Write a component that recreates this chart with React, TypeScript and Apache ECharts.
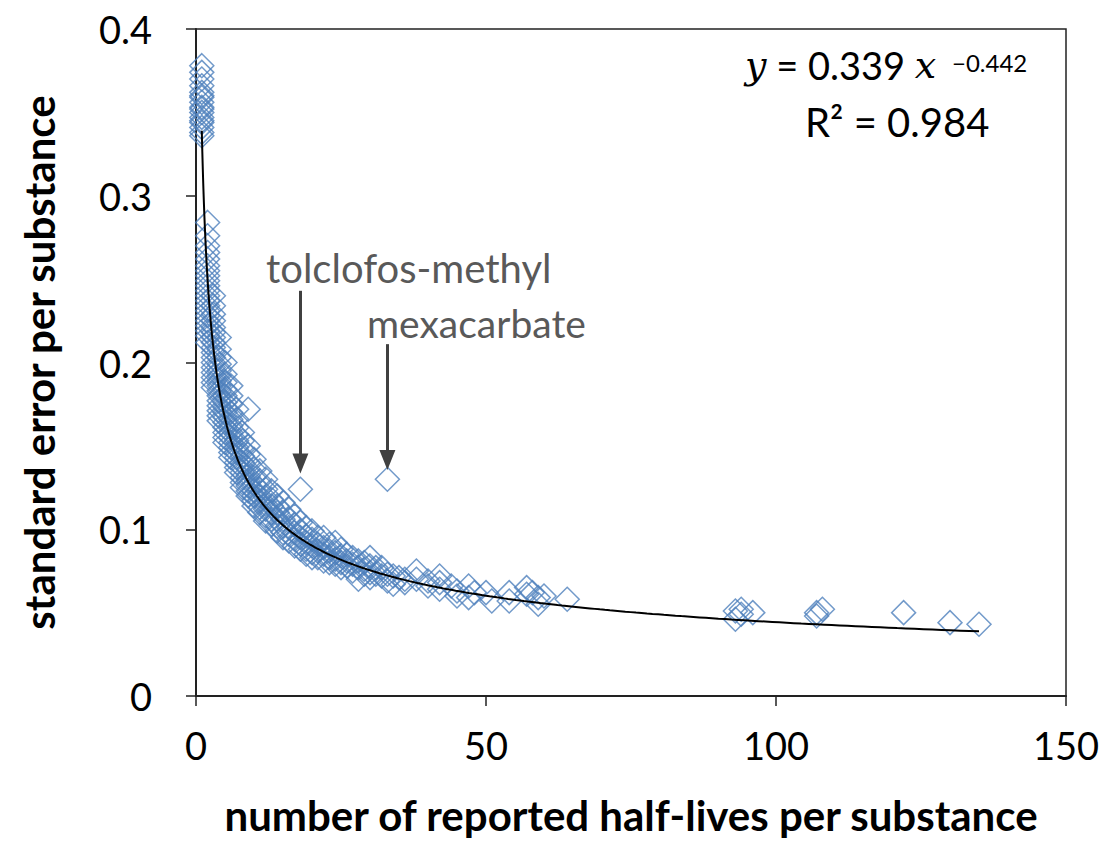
import React, { useEffect, useRef } from "react";
import * as echarts from "echarts";

// number of reported half-lives per substance -> standard errors observed
const lowCountGroups: Array<[number, number[]]> = [
  [1, [0.378, 0.374, 0.370, 0.366, 0.362, 0.359, 0.356, 0.353, 0.350, 0.347, 0.344, 0.341, 0.338, 0.336, 0.360, 0.352, 0.345]],
  [2, [0.284, 0.276, 0.270, 0.266, 0.262, 0.258, 0.255, 0.252, 0.249, 0.246, 0.243, 0.240, 0.237, 0.234, 0.231, 0.228, 0.225, 0.222, 0.219, 0.216, 0.212]],
  [3, [0.240, 0.234, 0.229, 0.225, 0.221, 0.218, 0.215, 0.212, 0.209, 0.206, 0.203, 0.200, 0.197, 0.194, 0.191, 0.188, 0.185]],
  [4, [0.215, 0.208, 0.203, 0.199, 0.195, 0.192, 0.189, 0.186, 0.183, 0.180, 0.177, 0.174, 0.171, 0.168, 0.165]],
  [5, [0.200, 0.193, 0.188, 0.184, 0.180, 0.176, 0.173, 0.170, 0.167, 0.164, 0.161, 0.158, 0.155, 0.152]],
  [6, [0.186, 0.180, 0.175, 0.170, 0.166, 0.162, 0.158, 0.155, 0.152, 0.149, 0.146, 0.143]],
  [7, [0.172, 0.166, 0.161, 0.157, 0.153, 0.149, 0.146, 0.143, 0.140, 0.137, 0.134]],
  [8, [0.158, 0.153, 0.148, 0.144, 0.140, 0.137, 0.134, 0.131, 0.128, 0.125]],
  [9, [0.172, 0.150, 0.145, 0.140, 0.136, 0.132, 0.129, 0.126, 0.123, 0.120]],
  [10, [0.142, 0.136, 0.131, 0.127, 0.123, 0.120, 0.117, 0.114]],
];

const midCountGroups: Array<[number, number[]]> = [
  [11, [0.135, 0.129, 0.124, 0.120, 0.117, 0.113, 0.110]],
  [12, [0.130, 0.124, 0.119, 0.115, 0.112, 0.108, 0.105]],
  [13, [0.123, 0.118, 0.114, 0.110, 0.106, 0.103]],
  [14, [0.120, 0.114, 0.110, 0.106, 0.102, 0.099]],
  [15, [0.116, 0.110, 0.106, 0.102, 0.098, 0.095]],
  [16, [0.112, 0.106, 0.101, 0.097, 0.093]],
  [17, [0.108, 0.103, 0.098, 0.094, 0.090]],
  [18, [0.104, 0.099, 0.095, 0.091, 0.088]],
  [19, [0.101, 0.096, 0.092, 0.088, 0.085]],
  [20, [0.099, 0.094, 0.090, 0.086, 0.083]],
  [21, [0.095, 0.091, 0.087, 0.083]],
  [22, [0.095, 0.089, 0.085, 0.081]],
  [23, [0.091, 0.087, 0.083, 0.080]],
  [24, [0.092, 0.086, 0.082, 0.079]],
  [25, [0.088, 0.084, 0.080, 0.077]],
  [26, [0.085, 0.081, 0.078]],
  [27, [0.083, 0.079, 0.075]],
  [28, [0.081, 0.077, 0.070]],
  [29, [0.080, 0.076, 0.073]],
  [30, [0.083, 0.078, 0.074, 0.071]],
];

const highCountGroups: Array<[number, number[]]> = [
  [31, [0.077, 0.073]],
  [32, [0.077, 0.072]],
  [33, [0.073, 0.069]],
  [34, [0.072, 0.067]],
  [35, [0.071]],
  [36, [0.070, 0.068]],
  [38, [0.075, 0.070]],
  [40, [0.069, 0.066]],
  [42, [0.072, 0.068, 0.064]],
  [44, [0.066]],
  [45, [0.063, 0.060]],
  [47, [0.066, 0.059]],
  [48, [0.062]],
  [50, [0.062]],
  [51, [0.057]],
  [54, [0.062, 0.057]],
  [57, [0.065, 0.061]],
  [58, [0.062]],
  [59, [0.055, 0.059]],
  [60, [0.060]],
  [64, [0.058]],
  [93, [0.051, 0.046]],
  [94, [0.052, 0.049]],
  [96, [0.050]],
  [107, [0.048, 0.050]],
  [108, [0.052]],
  [122, [0.050]],
  [130, [0.044]],
  [135, [0.043]],
];

// labelled outliers
const outlierNames = ["tolclofos-methyl", "mexacarbate"];
const outlierCounts = [18, 33];
const outlierErrors = [0.124, 0.13];

// power-law fit shown on the chart
const FIT_COEF = 0.339;
const FIT_EXP = -0.442;
const FIT_R2 = 0.984;
const FIT_RANGE = [1, 135];

const xTicks = [0, 50, 100, 150];
const yTicks = [0, 0.1, 0.2, 0.3, 0.4];

const BLUE = "#4f81bd";
const FONT = "Lato";

export default function App() {
  const ref = useRef<HTMLDivElement>(null);
  useEffect(() => {
    if (!ref.current) return;
    const chart = echarts.init(ref.current, null, { renderer: "svg" });

    const groups = [...lowCountGroups, ...midCountGroups, ...highCountGroups];
    const points: number[][] = [];
    groups.forEach(([n, ys]) => ys.forEach((y) => points.push([n, y])));
    outlierCounts.forEach((n, i) => points.push([n, outlierErrors[i]]));

    const fit: number[][] = [];
    const steps = 400;
    for (let i = 0; i <= steps; i++) {
      const t = i / steps;
      const x = FIT_RANGE[0] * Math.pow(FIT_RANGE[1] / FIT_RANGE[0], t);
      fit.push([x, FIT_COEF * Math.pow(x, FIT_EXP)]);
    }

    const arrowStarts = [0.243, 0.211];
    const arrowEnds = [0.1395, 0.1415];

    chart.setOption({
      animation: false,
      backgroundColor: "#fff",
      grid: {
        left: 196,
        right: 41,
        top: 29,
        bottom: 142,
        show: true,
        borderColor: "#222",
        borderWidth: 1.5,
      },
      xAxis: {
        type: "value",
        min: xTicks[0],
        max: xTicks[xTicks.length - 1],
        interval: 50,
        name: "number of reported half-lives per substance",
        nameLocation: "middle",
        nameGap: 98,
        nameTextStyle: { fontFamily: FONT, fontWeight: "bold", fontSize: 42, color: "#000" },
        axisLine: { show: true, onZero: false, lineStyle: { color: "#222", width: 2 } },
        axisTick: { show: true, inside: false, length: 10, lineStyle: { color: "#222", width: 1.5 } },
        axisLabel: { fontFamily: FONT, fontSize: 38, color: "#000", margin: 30 },
        splitLine: { show: false },
      },
      yAxis: {
        type: "value",
        min: yTicks[0],
        max: yTicks[yTicks.length - 1],
        interval: 0.1,
        name: "standard error per substance",
        nameLocation: "middle",
        nameGap: 136,
        nameRotate: 90,
        nameTextStyle: { fontFamily: FONT, fontWeight: "bold", fontSize: 42, color: "#000" },
        axisLine: { show: true, onZero: false, lineStyle: { color: "#222", width: 2 } },
        axisTick: { show: true, inside: false, length: 10, lineStyle: { color: "#222", width: 1.5 } },
        axisLabel: {
          fontFamily: FONT,
          fontSize: 38,
          color: "#000",
          margin: 44,
          formatter: (v: number) => (v === 0 ? "0" : v.toFixed(1)),
        },
        splitLine: { show: false },
      },
      series: [
        {
          type: "scatter",
          data: points,
          symbol: "diamond",
          symbolSize: 24,
          itemStyle: { color: "rgba(255,255,255,0)", borderColor: BLUE, borderWidth: 1.5 },
          z: 2,
        },
        {
          type: "line",
          data: fit,
          showSymbol: false,
          symbol: "none",
          lineStyle: { color: "#000", width: 2 },
          z: 3,
          markLine: {
            silent: true,
            symbol: ["none", "triangle"],
            symbolSize: [16, 20],
            symbolRotate: 180,
            label: { show: false },
            lineStyle: { color: "#404040", width: 3, type: "solid" },
            data: outlierCounts.map((n, i) => [
              { coord: [n, arrowStarts[i]] },
              { coord: [n, arrowEnds[i]] },
            ]),
          },
        },
      ],
      graphic: [
        {
          type: "text",
          left: 266,
          top: 248,
          style: { text: outlierNames[0], fontFamily: FONT, fontSize: 40, fill: "#595959" },
        },
        {
          type: "text",
          left: 367,
          top: 303,
          style: { text: outlierNames[1], fontFamily: FONT, fontSize: 39, fill: "#595959" },
        },
        {
          type: "text",
          left: 745,
          top: 46,
          style: {
            text: "{i|y} = " + FIT_COEF.toFixed(3) + " {i|x}",
            fontFamily: FONT,
            fontSize: 38,
            fill: "#000",
            rich: {
              i: { fontFamily: "DejaVu Serif", fontStyle: "italic", fontSize: 38, fill: "#000" },
            },
          },
        },
        {
          type: "text",
          left: 952,
          top: 50,
          style: { text: "\u2212" + Math.abs(FIT_EXP).toFixed(3), fontFamily: FONT, fontSize: 24, fill: "#000" },
        },
        {
          type: "text",
          left: 805,
          top: 102,
          style: { text: "R\u00b2 = " + FIT_R2.toFixed(3), fontFamily: FONT, fontSize: 40, fill: "#000" },
        },
      ],
    });
    return () => chart.dispose();
  }, []);
  return (
    <div
      ref={ref}
      style={{ position: "fixed", left: 0, top: 0, width: 1107, height: 841, background: "#fff" }}
    />
  );
}
